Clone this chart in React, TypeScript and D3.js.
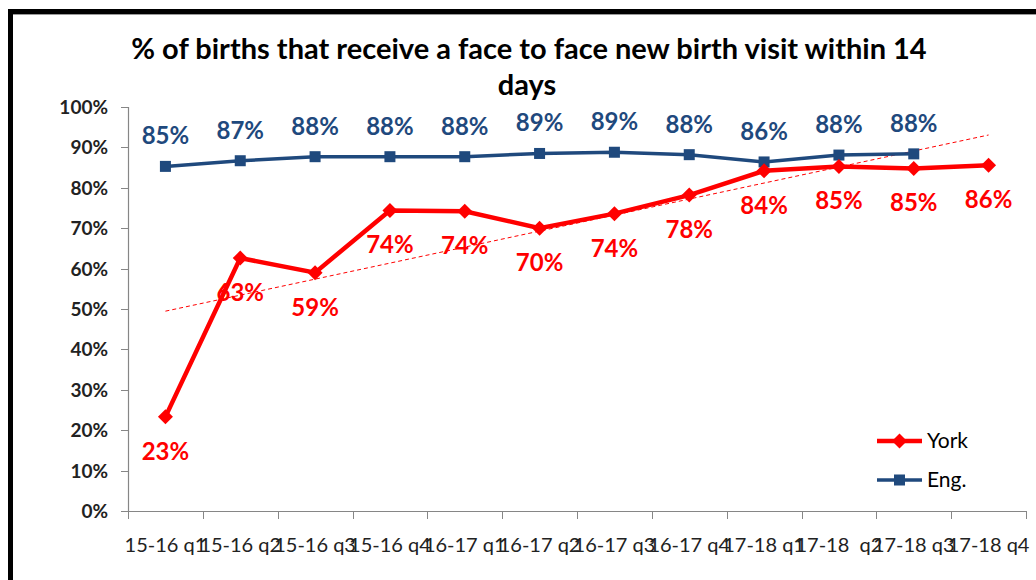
import React from "react";
import * as d3 from "d3";

const categories = [
  "15-16 q1", "15-16 q2", "15-16 q3", "15-16 q4",
  "16-17 q1", "16-17 q2", "16-17 q3", "16-17 q4",
  "17-18 q1", "17-18  q2", "17-18 q3", "17-18 q4",
];
const yorkValues = [0.233, 0.626, 0.59, 0.744, 0.742, 0.70, 0.736, 0.782, 0.842, 0.853, 0.848, 0.856];
const englandValues = [0.853, 0.867, 0.877, 0.877, 0.877, 0.885, 0.888, 0.882, 0.864, 0.881, 0.884];
const yTicks = [0, 0.1, 0.2, 0.3, 0.4, 0.5, 0.6, 0.7, 0.8, 0.9, 1.0];
const titleLines = ["% of births that receive a face to face new birth visit within 14", "days"];
const seriesNames = ["York", "Eng."];

const W = 1036;
const H = 580;
const FONT = "Lato, 'Open Sans', sans-serif";
const RED = "#FF0000";
const BLUE = "#1F497D";

export default function App() {
  const x = d3.scaleBand<string>().domain(categories).range([128, 1026]);
  const y = d3.scaleLinear().domain([0, 1]).range([511, 107]);
  const cx = (i: number) => (x(categories[i]) as number) + x.bandwidth() / 2;
  const fmt = d3.format(".0%");

  const line = d3
    .line<number>()
    .x((_, i) => cx(i))
    .y((d) => y(d));

  // linear trendline (least squares) for York
  const n = yorkValues.length;
  const xs = d3.range(n);
  const mx = d3.mean(xs) as number;
  const my = d3.mean(yorkValues) as number;
  const sxy = d3.sum(xs, (i) => (i - mx) * (yorkValues[i] - my));
  const sxx = d3.sum(xs, (i) => (i - mx) * (i - mx));
  const slope = sxy / sxx;
  const icpt = my - slope * mx;
  const trend = [icpt, icpt + slope * (n - 1)];

  const diamond = (px: number, py: number, r: number) =>
    `M${px},${py - r}L${px + r},${py}L${px},${py + r}L${px - r},${py}Z`;

  const boundaries = d3.range(categories.length + 1).map((i) =>
    i < categories.length ? (x(categories[i]) as number) : 1026
  );

  return (
    <svg
      width={W}
      height={H}
      style={{ position: "absolute", left: 0, top: 0, background: "#fff" }}
      fontFamily={FONT}
    >
      <rect x={0} y={0} width={W} height={H} fill="#fff" />
      {/* chart border */}
      <line x1={13} y1={14.5} x2={W} y2={14.5} stroke="#9a9a9a" strokeWidth={1} />
      <rect x={10.5} y={11.5} width={1200} height={800} fill="none" stroke="#000" strokeWidth={5} />

      {/* title */}
      <text x={529} y={59} textAnchor="middle" fontSize={29} fontWeight="bold" fill="#000">
        {titleLines[0]}
      </text>
      <text x={527} y={95} textAnchor="middle" fontSize={29} fontWeight="bold" fill="#000">
        {titleLines[1]}
      </text>

      {/* y axis */}
      <line x1={128.5} y1={y(1)} x2={128.5} y2={y(0)} stroke="#868686" strokeWidth={1.2} />
      {yTicks.map((t) => (
        <g key={t}>
          <line x1={121} x2={128.5} y1={Math.round(y(t)) + 0.5} y2={Math.round(y(t)) + 0.5} stroke="#868686" />
          <text x={108} y={y(t) + 7} textAnchor="end" fontSize={19} fontWeight="bold" fill="#222">
            {fmt(t)}
          </text>
        </g>
      ))}

      {/* x axis */}
      <line x1={128} x2={1026} y1={511.5} y2={511.5} stroke="#868686" strokeWidth={1.2} />
      {boundaries.map((b, i) => (
        <line key={i} x1={Math.round(b) + 0.5} x2={Math.round(b) + 0.5} y1={511} y2={519} stroke="#868686" />
      ))}
      {categories.map((c, i) => (
        <text key={c} x={cx(i)} y={552} textAnchor="middle" fontSize={20} fill="#222" style={{ whiteSpace: "pre" }}>
          {c}
        </text>
      ))}

      {/* trendline */}
      <line
        x1={cx(0)}
        y1={y(trend[0])}
        x2={cx(n - 1)}
        y2={y(trend[1])}
        stroke={RED}
        strokeWidth={1}
        strokeDasharray="4,3"
      />

      {/* England series */}
      <path d={line(englandValues) as string} fill="none" stroke={BLUE} strokeWidth={3.5} />
      {englandValues.map((v, i) => (
        <rect key={i} x={cx(i) - 5.5} y={y(v) - 5.5} width={11} height={11} fill={BLUE} />
      ))}

      {/* York series */}
      <path d={line(yorkValues) as string} fill="none" stroke={RED} strokeWidth={4.5} />
      {yorkValues.map((v, i) => (
        <path key={i} d={diamond(cx(i), y(v), 7.5)} fill={RED} />
      ))}

      {/* data labels */}
      {englandValues.map((v, i) => (
        <text key={i} x={cx(i)} y={y(v) - 22} textAnchor="middle" fontSize={24} fontWeight="bold" fill={BLUE}>
          {fmt(v)}
        </text>
      ))}
      {yorkValues.map((v, i) => (
        <text key={i} x={cx(i)} y={y(v) + 43} textAnchor="middle" fontSize={24} fontWeight="bold" fill={RED}>
          {fmt(v)}
        </text>
      ))}

      {/* legend */}
      <g>
        <line x1={877} x2={922} y1={441} y2={441} stroke={RED} strokeWidth={4.5} />
        <path d={diamond(899.5, 441, 7.5)} fill={RED} />
        <text x={927} y={448} fontSize={21} fill="#000">{seriesNames[0]}</text>
        <line x1={877} x2={922} y1={480} y2={480} stroke={BLUE} strokeWidth={3.5} />
        <rect x={894} y={474.5} width={11} height={11} fill={BLUE} />
        <text x={927} y={487} fontSize={21} fill="#000">{seriesNames[1]}</text>
      </g>
    </svg>
  );
}
